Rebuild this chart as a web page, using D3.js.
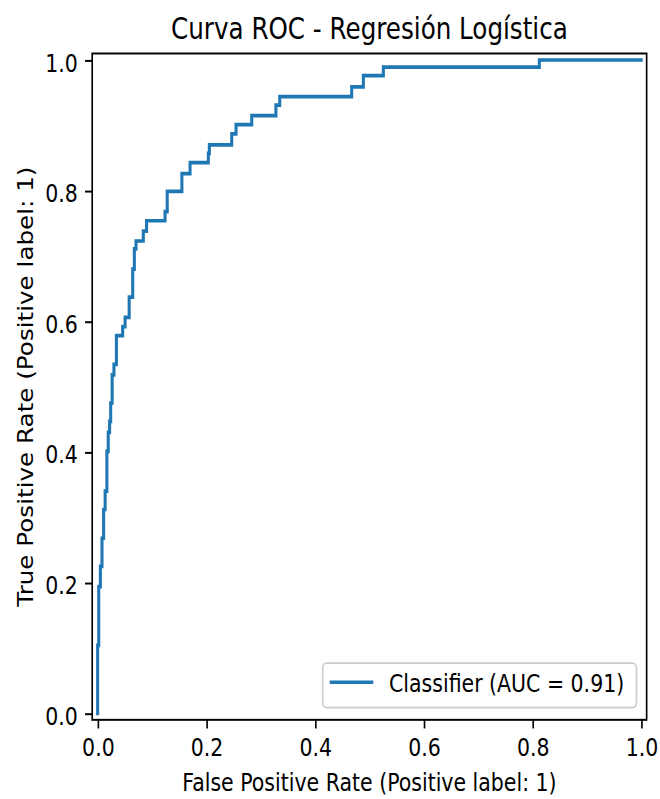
<!DOCTYPE html>
<html>
<head>
<meta charset="utf-8">
<script src="https://cdn.jsdelivr.net/npm/d3@7/dist/d3.min.js"></script>
<style>
  html, body { margin: 0; padding: 0; background: #fff; }
  svg { display: block; }
  text { font-family: "DejaVu Sans", sans-serif; fill: #000; }
</style>
</head>
<body>
<svg id="chart" width="660" height="799"></svg>
<script>
// ROC curve corner points
const fpr = [0, 0, 0.002, 0.005, 0.008, 0.011, 0.0138, 0.017, 0.0195, 0.022, 0.024, 0.0267, 0.030, 0.0345,
             0.046, 0.0505, 0.058, 0.0645, 0.0675, 0.0706, 0.084, 0.090, 0.124, 0.128, 0.155, 0.170,
             0.2036, 0.2055, 0.2467, 0.2546, 0.2835, 0.328, 0.335, 0.4674, 0.4888, 0.5256, 0.8126, 1.0];
const tpr = [0, 0.104, 0.194, 0.225, 0.268, 0.312, 0.340, 0.401, 0.430, 0.447, 0.475, 0.518, 0.534, 0.578,
             0.592, 0.606, 0.637, 0.680, 0.711, 0.723, 0.738, 0.754, 0.768, 0.799, 0.826, 0.843,
             0.857, 0.870, 0.887, 0.901, 0.915, 0.931, 0.944, 0.959, 0.976, 0.989, 1.0, 1.0];
const tickValues = [0, 0.2, 0.4, 0.6, 0.8, 1.0];
const tickLabels = ["0.0", "0.2", "0.4", "0.6", "0.8", "1.0"];
const titleText = "Curva ROC - Regresión Logística";
const xLabelText = "False Positive Rate (Positive label: 1)";
const yLabelText = "True Positive Rate (Positive label: 1)";
const legendText = "Classifier (AUC = 0.91)";

// The reference is a stretched raster: base coords scaled by sx, sy
const sx = 1.476, sy = 1.773;
const fs = 13.89;          // 10pt @100dpi
const tickLen = 4.86, tickPad = 4.86;
const ax = { left: 62.47, right: 438.1, top: 30.17, bottom: 406.0 };

const svg = d3.select("#chart");
svg.append("rect").attr("width", 660).attr("height", 799).attr("fill", "#fff");
const root = svg.append("g").attr("transform", `scale(${sx},${sy})`);

const x = d3.scaleLinear().domain([-0.01, 1.01]).range([ax.left, ax.right]);
const y = d3.scaleLinear().domain([-0.01, 1.01]).range([ax.bottom, ax.top]);

// curve
const pts = fpr.map((f, i) => [f, tpr[i]]);
const line = d3.line().x(d => x(d[0])).y(d => y(d[1])).curve(d3.curveStepAfter);
root.append("path").datum(pts)
  .attr("d", line)
  .attr("fill", "none")
  .attr("stroke", "#1f77b4")
  .attr("stroke-width", 2.08)
  .attr("stroke-linejoin", "miter")
  .attr("stroke-linecap", "square");

// axes
const fmt = (d) => tickLabels[tickValues.indexOf(d)] ?? d3.format(".1f")(d);
const xAxis = d3.axisBottom(x).tickValues(tickValues).tickFormat(fmt)
  .tickSize(tickLen).tickPadding(tickPad);
const yAxis = d3.axisLeft(y).tickValues(tickValues).tickFormat(fmt)
  .tickSize(tickLen).tickPadding(tickPad);

const gx = root.append("g").attr("transform", `translate(0,${ax.bottom})`).call(xAxis);
const gy = root.append("g").attr("transform", `translate(${ax.left},0)`).call(yAxis);
[gx, gy].forEach(g => {
  g.select(".domain").remove();
  g.selectAll(".tick line").attr("stroke", "#000").attr("stroke-width", 1.11);
  g.selectAll(".tick text").attr("font-size", fs).attr("font-family", "DejaVu Sans").attr("fill", "#000");
});
gx.selectAll(".tick text").attr("dy", "0.76em");
gy.selectAll(".tick text").attr("dy", "0.43em");

// spines
root.append("rect")
  .attr("x", ax.left).attr("y", ax.top)
  .attr("width", ax.right - ax.left).attr("height", ax.bottom - ax.top)
  .attr("fill", "none").attr("stroke", "#000").attr("stroke-width", 1.11);

// title
root.append("text")
  .attr("x", (ax.left + ax.right) / 2).attr("y", ax.top - 8.33)
  .attr("text-anchor", "middle").attr("font-size", 16.67)
  .text(titleText);

// x label
root.append("text")
  .attr("x", (ax.left + ax.right) / 2).attr("y", 446)
  .attr("text-anchor", "middle").attr("font-size", fs)
  .text(xLabelText);

// y label
const ycx = 22.6, ycy = (ax.top + ax.bottom) / 2;
root.append("text")
  .attr("transform", `translate(${ycx},${ycy}) rotate(-90)`)
  .attr("text-anchor", "middle").attr("font-size", fs)
  .text(yLabelText);

// legend
const lg = { left: 218.6, right: 431.2, top: 374.0, bottom: 399.1 };
root.append("rect")
  .attr("x", lg.left).attr("y", lg.top)
  .attr("width", lg.right - lg.left).attr("height", lg.bottom - lg.top)
  .attr("rx", 2.8).attr("ry", 2.8)
  .attr("fill", "#fff").attr("fill-opacity", 0.8)
  .attr("stroke", "#cccccc").attr("stroke-width", 1.1);
const ly = 384.8;
root.append("line")
  .attr("x1", 223.4).attr("x2", 252.9).attr("y1", ly).attr("y2", ly)
  .attr("stroke", "#1f77b4").attr("stroke-width", 2.08);
root.append("text")
  .attr("x", 263.6).attr("y", 390.2)
  .attr("font-size", fs)
  .text(legendText);
</script>
</body>
</html>
